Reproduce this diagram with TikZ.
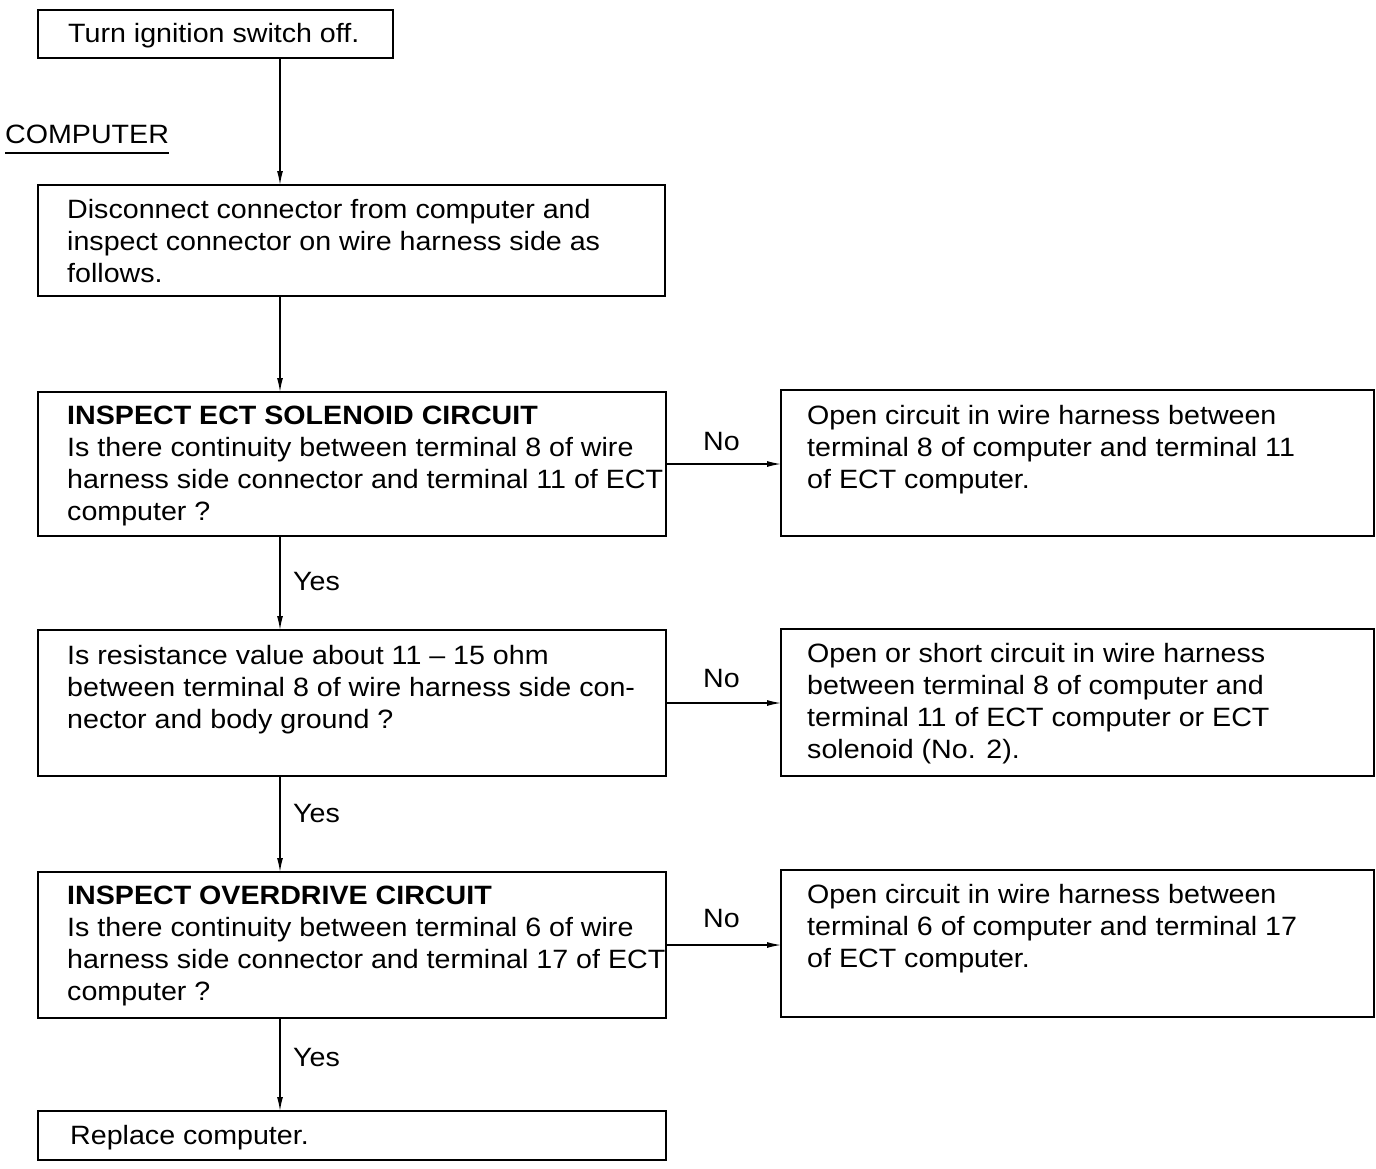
\documentclass[tikz,border=0pt]{standalone}
\usepackage{fontspec}
\setmainfont{Liberation Sans}[FakeStretch=1.08]
\usetikzlibrary{arrows.meta,calc}
\tikzset{
  box/.style={draw, line width=1.3pt, outer sep=0pt, inner sep=0pt, anchor=north west},
  txt/.style={anchor=base west, align=left, inner sep=0pt, font=\fontsize{26.5}{32}\selectfont},
  lbl/.style={anchor=base west, inner sep=0pt, font=\fontsize{26.5}{32}\selectfont},
  arr/.style={line width=1.3pt, -{Latex[length=14pt,width=6pt]}}
}
\begin{document}
\begin{tikzpicture}[x=1pt,y=-1pt]
\useasboundingbox (0,0) rectangle (1376,1168);
% boxes
\node[box, minimum width=355pt, minimum height=48pt] (b1) at (38,10) {};
\node[box, minimum width=627pt, minimum height=111pt] (b2) at (38,185) {};
\node[box, minimum width=628pt, minimum height=144pt] (b3) at (38,392) {};
\node[box, minimum width=593pt, minimum height=146pt] (r1) at (781,390) {};
\node[box, minimum width=628pt, minimum height=146pt] (b4) at (38,630) {};
\node[box, minimum width=593pt, minimum height=147pt] (r2) at (781,629) {};
\node[box, minimum width=628pt, minimum height=146pt] (b5) at (38,872) {};
\node[box, minimum width=593pt, minimum height=147pt] (r3) at (781,870) {};
\node[box, minimum width=628pt, minimum height=49pt] (b6) at (38,1111) {};
% texts (base anchor = baseline of last line)
\node[txt] (t1) at (68,42) {Turn ignition switch off.};
\node[lbl] (comp) at (5,143) {COMPUTER};
\draw[line width=1.2pt] ($(comp.base west)+(0,10)$) -- ($(comp.base east)+(0,10)$);
\node[txt] (t2) at (67,282) {Disconnect connector from computer and\\inspect connector on wire harness side as\\follows.};
\node[txt] (t3) at (67,520) {\textbf{INSPECT ECT SOLENOID CIRCUIT}\\Is there continuity between terminal 8 of wire\\harness side connector and terminal 11 of ECT\\computer ?};
\node[txt] (tr1) at (807,488) {Open circuit in wire harness between\\terminal 8 of computer and terminal 11\\of ECT computer.};
\node[txt] (t4) at (67,728) {Is resistance value about 11 -- 15 ohm\\between terminal 8 of wire harness side con-\\nector and body ground ?};
\node[txt] (tr2) at (807,758) {Open or short circuit in wire harness\\between terminal 8 of computer and\\terminal 11 of ECT computer or ECT\\solenoid (No. 2).};
\node[txt] (t5) at (67,1000) {\textbf{INSPECT OVERDRIVE CIRCUIT}\\Is there continuity between terminal 6 of wire\\harness side connector and terminal 17 of ECT\\computer ?};
\node[txt] (tr3) at (807,967) {Open circuit in wire harness between\\terminal 6 of computer and terminal 17\\of ECT computer.};
\node[txt] (t6) at (70,1144) {Replace computer.};
% labels
\node[lbl] (n1) at (703,450) {No};
\node[lbl] (n2) at (703,687) {No};
\node[lbl] (n3) at (703,927) {No};
\node[lbl] (y1) at (293,590) {Yes};
\node[lbl] (y2) at (293,822) {Yes};
\node[lbl] (y3) at (293,1066) {Yes};
% connectors
\coordinate (col) at (280,0);
\draw[arr] (col |- b1.south) -- (col |- b2.north);
\draw[arr] (col |- b2.south) -- (col |- b3.north);
\draw[arr] (col |- b3.south) -- (col |- b4.north);
\draw[arr] (col |- b4.south) -- (col |- b5.north);
\draw[arr] (col |- b5.south) -- (col |- b6.north);
\draw[arr] (b3.east) -- (b3.east -| r1.west);
\draw[arr] (b4.east) -- (b4.east -| r2.west);
\draw[arr] (b5.east) -- (b5.east -| r3.west);
\end{tikzpicture}
\end{document}
